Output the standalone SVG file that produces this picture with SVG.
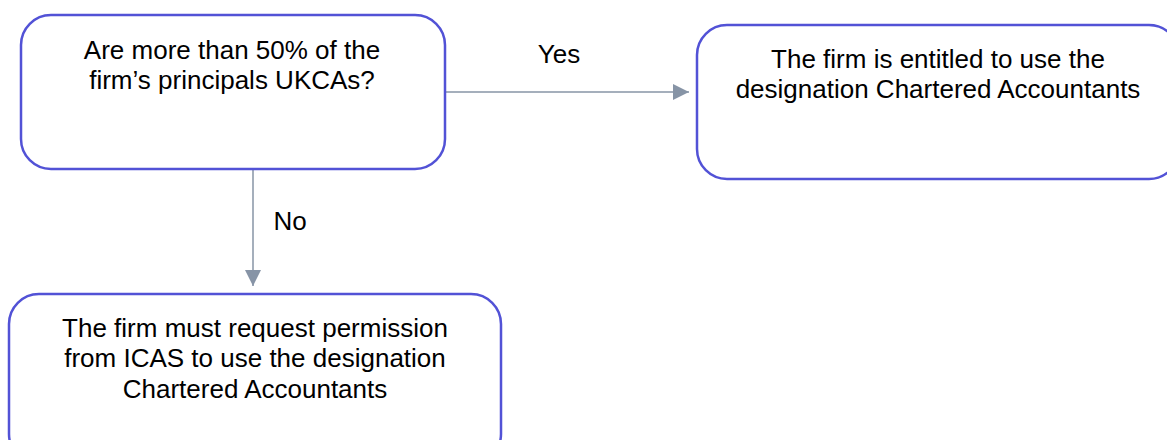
<svg xmlns="http://www.w3.org/2000/svg" width="1167" height="440" viewBox="0 0 1167 440">
<style>
.box{fill:#fff;stroke:#5252d6;stroke-width:2.5}
.t{font-family:"Liberation Sans",Arial,sans-serif;font-size:26px;fill:#000;text-anchor:middle}
.c{stroke:#8794a6;stroke-width:1.5;fill:none}
</style>
<defs>
<marker id="ah" viewBox="0 0 10 10" refX="10" refY="5" markerWidth="16" markerHeight="16" markerUnits="userSpaceOnUse" orient="auto">
<path d="M0,0 L10,5 L0,10 Z" fill="#8794a6"/>
</marker>
</defs>
<rect width="1167" height="440" fill="#fff"/>
<g id="connectors">
<line class="c" x1="446" y1="92" x2="689" y2="92" marker-end="url(#ah)"/>
<text class="t" x="559" y="63">Yes</text>
<line class="c" x1="253" y1="169" x2="253" y2="286" marker-end="url(#ah)"/>
<text class="t" x="290" y="230">No</text>
</g>
<g id="q">
<rect class="box" x="21" y="15" width="424" height="154" rx="30"/>
<text class="t" x="232" y="59">Are more than 50% of the</text>
<text class="t" x="232" y="89">firm’s principals UKCAs?</text>
</g>
<g id="yes">
<rect class="box" x="697" y="25" width="482" height="154" rx="30"/>
<text class="t" x="938" y="68">The firm is entitled to use the</text>
<text class="t" x="938" y="98">designation Chartered Accountants</text>
</g>
<g id="no">
<rect class="box" x="9" y="294" width="492" height="170" rx="30"/>
<text class="t" x="255" y="337">The firm must request permission</text>
<text class="t" x="255" y="367">from ICAS to use the designation</text>
<text class="t" x="255" y="398">Chartered Accountants</text>
</g>
</svg>
